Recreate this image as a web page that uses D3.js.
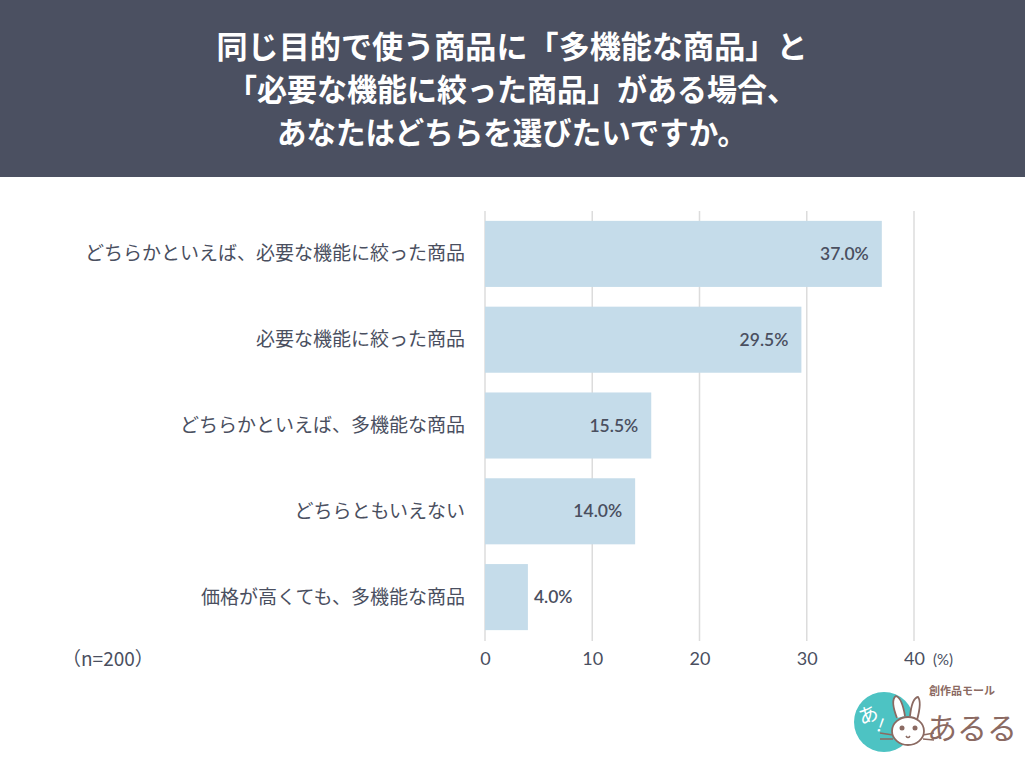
<!DOCTYPE html>
<html><head><meta charset="utf-8">
<script src="https://cdn.jsdelivr.net/npm/d3@7"></script>
<style>body{margin:0;background:#fff}svg{display:block}</style>
</head><body>
<svg id="c" width="1025" height="768"></svg>
<script>
const titleLines = ["同じ目的で使う商品に「多機能な商品」と","「必要な機能に絞った商品」がある場合、","あなたはどちらを選びたいですか。"];
const categories = ["どちらかといえば、必要な機能に絞った商品","必要な機能に絞った商品","どちらかといえば、多機能な商品","どちらともいえない","価格が高くても、多機能な商品"];
const values = [37.0,29.5,15.5,14.0,4.0];
const ticks = [0,10,20,30,40];
const sampleNote = "（n=200）";
const unitLabel = "(%)";

const svg = d3.select("#c");
const ink = "#4a4f5f";
svg.append("rect").attr("x",0).attr("y",0).attr("width",1025).attr("height",177).attr("fill","#4b5061");
svg.selectAll("text.title").data(titleLines).join("text").attr("class","title")
  .attr("x",512).attr("y",(d,i)=>58+i*43).attr("text-anchor","middle")
  .attr("fill","#fff").attr("font-family","'Noto Sans CJK JP'").attr("font-weight","bold").attr("font-size",31)
  .attr("textLength",(d,i)=>[591,570,470][i]).attr("lengthAdjust","spacingAndGlyphs").text(d=>d);

const x = d3.scaleLinear().domain([0,40]).range([485,914]);
const y = d3.scaleBand().domain(categories).range([211,640]).paddingInner(0.23).paddingOuter(0.115);

svg.append("g").selectAll("line").data(ticks).join("line")
  .attr("x1",d=>x(d)).attr("x2",d=>x(d)).attr("y1",211).attr("y2",641)
  .attr("stroke","#dcdcdc").attr("stroke-width",1.5);

svg.append("g").selectAll("rect").data(values).join("rect")
  .attr("x",x(0)).attr("y",(d,i)=>y(categories[i])).attr("width",d=>x(d)-x(0)).attr("height",y.bandwidth())
  .attr("fill","#c5dcea");

svg.append("g").selectAll("text").data(values).join("text")
  .attr("x",d=> d>8 ? x(d)-13 : x(d)+6)
  .attr("y",(d,i)=>y(categories[i])+y.bandwidth()/2+6)
  .attr("text-anchor",d=> d>8 ? "end":"start")
  .attr("fill",ink).attr("font-family","Lato").attr("font-weight",600).attr("font-size",17.5)
  .text(d=>d.toFixed(1)+"%");

svg.append("g").selectAll("text").data(categories).join("text")
  .attr("x",465).attr("y",d=>y(d)+y.bandwidth()/2+6.5).attr("text-anchor","end")
  .attr("fill",ink).attr("font-family","'Noto Sans CJK JP'").attr("font-size",19).text(d=>d);

const axis = d3.axisBottom(x).tickValues(ticks).tickSize(0).tickPadding(0).tickFormat(d3.format("d"));
const ag = svg.append("g").attr("transform","translate(0,665)").call(axis);
ag.select(".domain").remove();
ag.selectAll("text").attr("fill",ink).attr("font-family","Lato").attr("font-size",18).attr("dy",0);
svg.append("text").attr("x",933).attr("y",665).attr("fill",ink).attr("font-family","Lato").attr("font-size",15).text(unitLabel);
svg.append("text").attr("x",62).attr("y",666).attr("fill",ink).attr("font-family","'Noto Sans CJK JP'").attr("font-size",19).text(sampleNote);

// logo
const brown = "#8b6a62";
const lg = svg.append("g");
lg.append("circle").attr("cx",884).attr("cy",722).attr("r",30).attr("fill","#4dc3c3");
lg.append("text").attr("x",858).attr("y",722).attr("fill","#fff").attr("font-family","'Noto Sans CJK JP'").attr("font-size",20)
  .attr("transform","rotate(-20,868,714)").text("あ");
lg.append("text").attr("x",878).attr("y",732).attr("fill","#fff").attr("font-family","'Noto Sans CJK JP'").attr("font-size",18)
  .attr("transform","rotate(20,882,725)").text("!");
lg.append("path").attr("d","M897,718 Q890,700 896,696 Q902,698 905,716 M910,716 Q912,698 918,697 Q922,702 917,720")
  .attr("fill","#fff").attr("stroke",brown).attr("stroke-width",1.8);
lg.append("ellipse").attr("cx",908).attr("cy",731).attr("rx",16).attr("ry",14).attr("fill","#fff").attr("stroke",brown).attr("stroke-width",1.8);
lg.append("circle").attr("cx",902).attr("cy",728).attr("r",2.5).attr("fill",brown);
lg.append("circle").attr("cx",915).attr("cy",728).attr("r",2.5).attr("fill",brown);
lg.append("path").attr("d","M906,736 Q908,739 910,736 M880,733 L893,735 M880,739 L893,739 M923,735 L934,733 M923,739 L934,740")
  .attr("fill","none").attr("stroke",brown).attr("stroke-width",1.5);
lg.append("text").attr("x",929).attr("y",695).attr("fill",brown).attr("font-family","'Noto Sans CJK JP'").attr("font-size",11).attr("font-weight","bold").text("創作品モール");
lg.append("text").attr("x",927).attr("y",739).attr("fill",brown).attr("font-family","'Noto Sans CJK JP'").attr("font-size",30).text("あるる");
</script>
</body></html>
